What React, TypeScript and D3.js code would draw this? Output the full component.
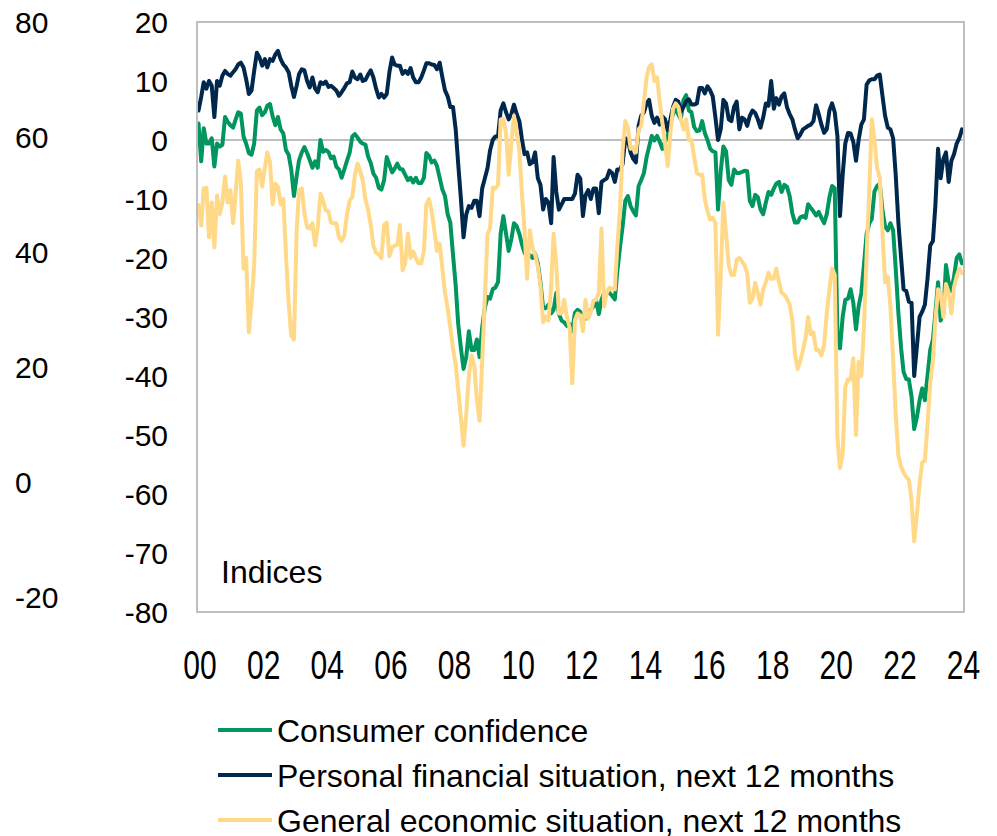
import React from 'react';
import * as d3 from 'd3';

// Monthly series, starting January 2000
const confidence: number[] = [
  2.8, -3.6, 2, -0.6, -0.6, 0.3, -4.5, -0.6, -1.1, -0.8, 3.9, 3.1,
  2.5, 2.1, 3.4, 4.7, 4.5, 0.6, -0.6, -2.2, -2.5, -0.6, 5, 5.5,
  4.2, 4.7, 5.8, 6.1, 4, 2.5, 3.9, 1.8, 1.1, -1.7, -2.5, -5,
  -9.5, -6.1, -3.4, -2.1, -1.2, -2.2, -3.4, -4.7, -3.6, -4.7, 0, -2,
  -1.7, -2, -3.1, -2.8, -4.5, -5, -6.4, -5, -3.5, -2.2, 0.6, 1,
  0.4, -0.3, -0.6, -0.8, -2.8, -3.9, -5.7, -6.4, -8.1, -8.4, -6.8, -2.9,
  -4.2, -5.5, -4.9, -4, -4.9, -5, -5.9, -6.8, -6.4, -7.2, -6.4, -7.3,
  -7.3, -6.4, -2.2, -2.7, -3.8, -3.5, -4.4, -6.4, -8.4, -9.5, -12.6, -14,
  -19.4, -24.7, -31.2, -35.3, -38.8, -36.8, -32.4, -35.6, -35.6, -33.8, -36.8, -31.8,
  -28.4, -26.6, -26.9, -25.3, -25, -24.1, -15.9, -12.9, -15.9, -18.8, -16.8, -14.1,
  -14.6, -15.9, -17.6, -19.1, -19.7, -19.5, -20, -19.3, -20.9, -24.1, -28.5, -28.5,
  -27.9, -29.4, -28.8, -25.9, -29.5, -30.6, -30.9, -31.5, -31.2, -32.4, -29.3, -28.8,
  -29.1, -30.3, -30.3, -29.4, -28.8, -28.2, -27.1, -29.5, -27.1, -25.9, -25.9, -25.9,
  -26.4, -27, -22.4, -18.2, -14.7, -10.3, -9.5, -11.2, -12.1, -12.8, -7.8, -6.8,
  -5.6, -2.9, -1.2, 0.7, -0.1, 0.7, -0.3, -1.5, -0.3, 0.7, 2.8, 4.4,
  5.3, 4.3, 3.5, 6.8, 7.6, 5, 4.7, 2.2, 1.5, 1.6, 3.2, 1.2,
  0, -1.5, -1.9, -2.1, -11.8, -5.3, -1.1, -1.9, -6.8, -7.6, -5, -5.6,
  -5.6, -5.4, -5.2, -5.3, -10.3, -11.2, -9.3, -9.7, -11.8, -12.6, -10.6, -8.8,
  -9.3, -8.2, -7.4, -7.1, -8.8, -7.6, -7.9, -9.5, -12.4, -14, -14, -13.1,
  -12.9, -13.2, -10.9, -11.5, -12.1, -12.8, -12.2, -13.2, -14.1, -12.6, -9.7, -7.8,
  -8.2, -33.5, -35.3, -30, -27.1, -26.9, -25.3, -27.6, -32.1, -28.2, -25.9, -21.2,
  -15.9, -14.1, -13.4, -8.7, -7.8, -7.4, -11.8, -14.7, -15.3, -14.1, -15.3, -21.8,
  -29.4, -35.3, -39.3, -40.5, -40.6, -43.5, -49, -47, -44.1, -42.1, -44.1, -40,
  -35.6, -33.8, -29.4, -24.1, -30.6, -29.4, -21.2, -24.1, -25.6, -23.2, -20, -19.4,
  -20.9,
];

const personal: number[] = [
  5, 7.3, 9.8, 8.7, 10, 9.2, 3.9, 10, 9.2, 10.9, 11.7, 11.2,
  10.9, 11.5, 12, 12.8, 13.1, 12.3, 10.3, 7.8, 8.4, 11.7, 14.8, 14,
  12.6, 13.7, 12.3, 13.7, 13.4, 14.5, 15.1, 13.7, 12.8, 12.3, 11.5, 9.2,
  7.3, 9.2, 11.2, 12, 11.8, 10, 8.9, 10.6, 8.7, 8.1, 9.8, 9.5,
  9.9, 9, 9.2, 8.8, 8.4, 7.5, 8.1, 8.8, 9.6, 9.8, 11.6, 10.6,
  10.3, 11.1, 10, 10.2, 11.1, 11.8, 10.6, 8.7, 7.2, 7.8, 7.2, 7.8,
  11.5, 14, 12.8, 12.6, 12.6, 11.2, 11.7, 11.2, 12.2, 10.6, 9.8, 9.8,
  10.6, 11.8, 13, 13, 12.8, 12.7, 12, 13.1, 10.6, 8.4, 7.4, 5.6,
  5.6, 1.8, -4.1, -10, -16.5, -12.6, -11.2, -11.5, -10.3, -10.3, -12.9, -8.2,
  -6.5, -4.7, -1.8, 0, 0.6, 0.6, 5, 6.2, 4.7, 3.5, 4.4, 6,
  4.4, 3.2, 0.3, -2.4, -2.1, -4.1, -3.8, -2.1, -6.5, -7.6, -11.8, -10,
  -10.6, -14.1, -2.9, -8.8, -11.8, -10.9, -10, -10, -10, -10, -9.1, -5.9,
  -6.5, -12.9, -9.4, -8.5, -10, -8.2, -8.2, -12.4, -7.1, -6.8, -6.5, -5.2,
  -5.6, -7.1, -5, -5, -4.1, 0.3, 0, -2.1, -3.2, -3.8, 2.4, 4.1,
  4.7, 6.2, 6.8, 4.1, 2.9, 3.8, 2.6, 4, 3.5, 1.6, 3.5, 5.6,
  6.8, 6.5, 4.8, 5.6, 6.6, 6.9, 6, 6, 6.2, 8.8, 8.8, 7.9,
  9.1, 8.4, 7.4, 3.8, 0, 1.8, 6.8, 6.2, 3.5, 3.2, 5.6, 6.5,
  1.8, 3.8, 3.5, 2.4, 4.1, 5, 4.6, 3.5, 2.1, 3.8, 6.2, 5.8,
  10, 5.3, 7.1, 6, 7.4, 7.9, 5.6, 4.4, 3.5, 1.8, 0.3, 0.9,
  1.8, 2.1, 2.4, 2.6, 3.2, 5.9, 4.4, 2.6, 1.2, 1.8, 5, 6.2,
  4.7, 0.6, -12.9, -5.9, -0.6, 1.2, 1.1, -0.3, -3.5, 0, 2.6, 3.5,
  9.4, 10.1, 10.3, 10.3, 10.9, 11.1, 7.6, 4.1, 2.1, 1.8, 0.3, -5.9,
  -14.1, -20, -25.3, -25.6, -27.4, -27.6, -40, -35, -30, -29.1, -27.9, -23.5,
  -17.9, -17.1, -11.2, -1.5, -6.5, -3.2, -2.1, -7.1, -3.5, -2.4, -0.6, 0.3,
  1.8,
];

const general: number[] = [
  -11, -14.5, -8.2, -8.1, -16.5, -10.6, -18.2, -9.4, -12.6, -10.6, -6.2, -10.6,
  -8.5, -14.1, -9.4, -3.5, -7.1, -21.8, -20, -32.6, -27.6, -21.2, -5.3, -5,
  -7.9, -4.7, -2.1, -3.8, -10.9, -7.4, -7.9, -10.9, -10, -19.4, -27.6, -33.2,
  -33.8, -15.3, -8.5, -8.2, -12.4, -14.8, -15, -14.1, -17.9, -14.7, -9.1, -10.3,
  -11.9, -12.1, -14, -14.1, -14.1, -16.5, -17.1, -16.2, -12.6, -10.3, -9.7, -5.9,
  -4, -5.3, -6.9, -10.1, -11.8, -14.4, -17.9, -19.1, -19.4, -20, -14.4, -14,
  -19.7, -18.2, -17.9, -17.8, -14.4, -22.1, -20.9, -15.9, -20, -18.9, -20, -20.9,
  -20.9, -18.8, -10.9, -10, -12.1, -15.3, -18.8, -17.6, -21.8, -25.9, -28.5, -31.8,
  -35.3, -38.2, -42.4, -47.1, -51.8, -46.5, -40, -36.5, -38.2, -44.1, -47.6, -37.6,
  -26.5, -15.9, -15, -8.1, -8.2, -7.6, 3.5, 3.6, 1.2, -5.9, -0.6, 4.1,
  1.2, -1.8, -8.8, -15.3, -23.5, -15.3, -18.2, -19.4, -21.5, -24.7, -30.9, -29.9,
  -30.6, -24.7, -15.9, -21.2, -29.4, -29.4, -27.1, -30, -31.8, -41.2, -30.6, -29.4,
  -29.7, -32.4, -27.1, -30.3, -29.1, -27.2, -27.1, -25.9, -15, -28.2, -25.9, -25,
  -25.3, -25.3, -18.2, -11.8, -1.8, 3.2, 2.1, -1.5, -1.2, -2.1, 1.8, 2.4,
  6.5, 10.6, 12.4, 12.8, 10, 10.6, 6.5, 2.9, -0.6, -4.4, 1.2, 5.3,
  6.2, 5.6, 3.5, 1.8, 3.5, 0, 0, -2.9, -5.6, -5.9, -5.9, -10,
  -12.1, -13.5, -13.2, -14.1, -33, -22.9, -10.6, -15.9, -21.2, -22.9, -22.9, -20.3,
  -20, -20.6, -21.2, -22.6, -27.6, -26.9, -24.2, -25.9, -27.9, -25.3, -24.1, -22.5,
  -23.5, -23.5, -21.8, -24.1, -25.9, -26.2, -26.9, -27.9, -30.6, -36.2, -38.8, -37.4,
  -35.6, -33.5, -30, -32.9, -32.6, -35.6, -35.6, -36.5, -34.7, -29.4, -25.3, -21.8,
  -22.9, -50.6, -55.6, -53.2, -41.8, -40.6, -40.6, -37, -50, -37.6, -40, -31.8,
  -19.4, -8.2, 3.5, 0, -4.7, -6.5, -15.3, -24.1, -23.2, -28.2, -37.1, -46.5,
  -53.5, -55.4, -56.4, -57.1, -57.6, -61.2, -68, -63.5, -58.2, -54.7, -54.3, -48.2,
  -41.2, -37.4, -30.6, -25.3, -25.9, -30, -24.4, -25.9, -29.4, -25, -23.1, -21.8,
  -22.6,
];

const seriesNames = [
  'Consumer confidence',
  'Personal financial situation, next 12 months',
  'General economic situation, next 12 months',
];
const seriesColors = ['#00965e', '#00284d', '#ffd987'];

const xTickYears = [2000, 2002, 2004, 2006, 2008, 2010, 2012, 2014, 2016, 2018, 2020, 2022, 2024];
const yTicks = [20, 10, 0, -10, -20, -30, -40, -50, -60, -70, -80];
const leftTicks = [80, 60, 40, 20, 0, -20];

const FONT = "'Liberation Sans', Arial, Helvetica, sans-serif";

export default function App() {
  const W = 997;
  const H = 836;
  const left = 197;
  const right = 964;
  const top = 22;
  const bottom = 612;

  const x = d3.scaleTime()
    .domain([new Date(2000, 0, 1), new Date(2024, 0, 1)])
    .range([198.5, 962]);
  const y = d3.scaleLinear().domain([-80, 20]).range([bottom, top]);
  const y2 = d3.scaleLinear().domain([-20, 80]).range([597, 22]);

  const monthDate = (i: number) => new Date(2000, i, 1);
  const line = d3.line<number>()
    .x((_, i) => x(monthDate(i)))
    .y((d) => y(d));

  const series = [confidence, personal, general];
  const legendY = [730, 775, 820];

  return (
    <svg
      width={W}
      height={H}
      viewBox={`0 0 ${W} ${H}`}
      style={{ position: 'absolute', left: 0, top: 0, background: '#fff' }}
      fontFamily={FONT}
    >
      <rect x={0} y={0} width={W} height={H} fill="#fff" />
      <line x1={left} x2={right} y1={y(0)} y2={y(0)} stroke="#bfbfbf" strokeWidth={2} />
      {series.map((s, k) => (
        <path
          key={k}
          d={line(s) || ''}
          fill="none"
          stroke={seriesColors[k]}
          strokeWidth={4}
          strokeLinejoin="round"
          strokeLinecap="round"
        />
      ))}
      <rect
        x={left}
        y={top}
        width={right - left}
        height={bottom - top}
        fill="none"
        stroke="#bfbfbf"
        strokeWidth={2}
      />
      {yTicks.map((t) => (
        <text key={t} x={168} y={y(t)} dy="0.36em" textAnchor="end" fontSize={30} fill="#000">
          {t}
        </text>
      ))}
      {leftTicks.map((t) => (
        <text key={t} x={15} y={y2(t)} dy="0.36em" textAnchor="start" fontSize={30} fill="#000">
          {t}
        </text>
      ))}
      {xTickYears.map((yr) => (
        <text
          key={yr}
          transform={`translate(${x(new Date(yr, 0, 1)) + 1.5},${679}) scale(1,1.38)`}
          textAnchor="middle"
          fontSize={30}
          fill="#000"
        >
          {String(yr % 100).padStart(2, '0')}
        </text>
      ))}
      <text x={221} y={583} fontSize={32} fill="#000">Indices</text>
      {seriesNames.map((n, k) => (
        <g key={n}>
          <line x1={218} x2={272} y1={legendY[k]} y2={legendY[k]} stroke={seriesColors[k]} strokeWidth={4} />
          <text x={277} y={legendY[k]} dy="0.36em" fontSize={32} fill="#000">{n}</text>
        </g>
      ))}
    </svg>
  );
}
